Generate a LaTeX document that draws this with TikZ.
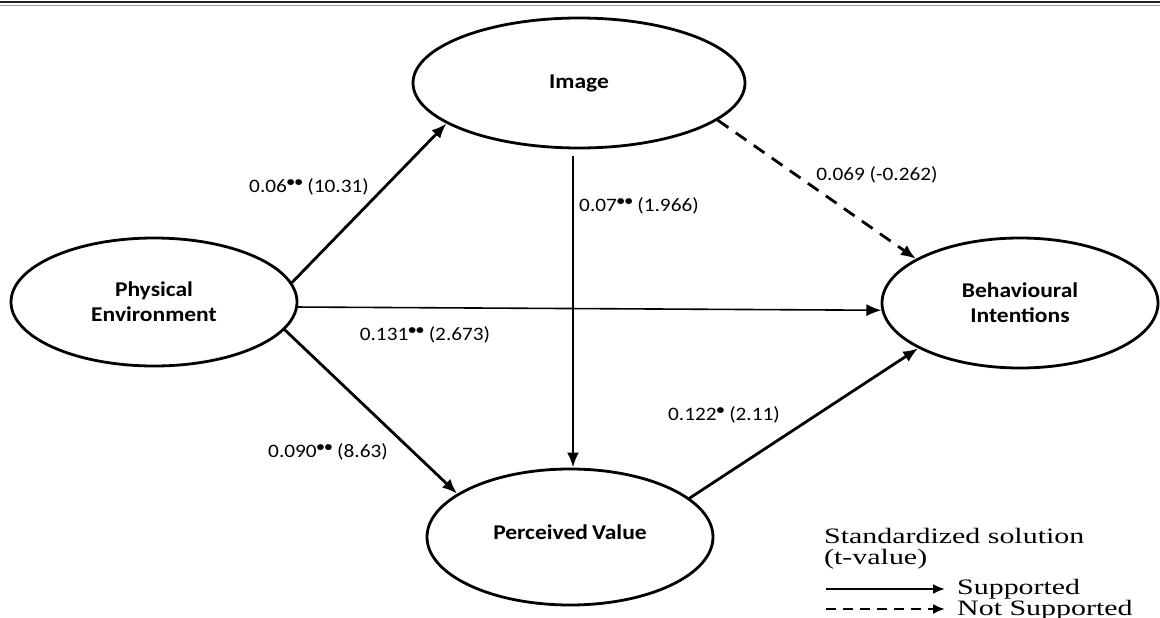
\documentclass[tikz,border=0pt]{standalone}
\usepackage{fontspec}
\usepackage{graphicx}
\setmainfont{Liberation Serif}
\newfontfamily\calfont{Carlito}
\usetikzlibrary{shapes.geometric,arrows.meta}
\newcommand{\wx}[2][1.12]{\scalebox{#1}[1]{#2}}
\newcommand{\st}[1]{\raisebox{0.3em}{\fontsize{14}{14}\selectfont\bfseries #1}}
\begin{document}
\begin{tikzpicture}[x=1pt,y=-1pt,
  latent/.style={ellipse, draw, line width=2.8pt, inner sep=0pt, align=center,
    font=\calfont\bfseries\fontsize{21}{25}\selectfont},
  pth/.style={line width=2.8pt, -{Latex[length=15pt,width=12pt]}},
  lbl/.style={font=\calfont\fontsize{19}{22}\selectfont, inner sep=0pt},
  leg/.style={font=\fontsize{22}{25}\selectfont, inner sep=0pt, anchor=base west}]
\useasboundingbox (0,0) rectangle (1160,618);
\draw[line width=2.4pt, black!85] (0,2) -- (1160,2);
\draw[line width=0.8pt, black!40] (0,5.5) -- (1160,5.5);

\node[latent, minimum width=332pt, minimum height=130pt] (IM) at (579,83) {\wx{Image}};
\node[latent, minimum width=286pt, minimum height=128pt] (PE) at (154,302) {\wx{Physical}\\\wx{Environment}};
\node[latent, minimum width=276pt, minimum height=130pt] (BI) at (1020,303) {\wx{Behavioural}\\\wx{Intentions}};
\node[latent, minimum width=286pt, minimum height=136pt] (PV) at (570,537) {\raisebox{9pt}{\wx{Perceived\kern-1pt\ Value}}};

\draw[pth] (PE.8) -- (IM.197.6);
\draw[pth, line width=1.6pt] (PE.-2) -- (BI.183.7);
\draw[pth] (PE.-12) -- (PV.159);
\draw[pth] ([xshift=-6pt,yshift=-7pt]IM.south) -- ([xshift=-6pt]IM.south |- PV.north);
\draw[pth, dash pattern=on 13pt off 9pt] (IM.-15) -- (BI.157.6);
\draw[pth] (PV.18) -- (BI.204.6);

\node[lbl] (l1) at (309,187) {\wx{0.06\st{••} (10.31)}};
\node[lbl] (l2) at (639,206) {\wx{0.07\st{••} (1.966)}};
\node[lbl] (l3) at (877,175) {\wx{0.069 (-0.262)}};
\node[lbl] (l4) at (425,335) {\wx{0.131\st{••} (2.673)}};
\node[lbl] (l5) at (328,452) {\wx{0.090\st{••} (8.63)}};
\node[lbl] (l6) at (724,415) {\wx{0.122\st{•} (2.11)}};

\node[leg] (lg1) at (824,543) {\wx[1.36]{Standardized solution}};
\node[leg] (lg2) at (824,564) {\wx[1.36]{(t-value)}};
\coordinate (s1) at (826,589);
\coordinate (s2) at (826,609);
\node[leg] (sup) at (957,594) {\wx[1.36]{Supported}};
\node[leg] (nsup) at (957,615) {\wx[1.36]{Not Supported}};
\draw[line width=2.2pt, -{Latex[length=12pt,width=10pt]}, shorten >=12pt] (s1) -- (s1 -| sup.west);
\draw[line width=2.2pt, dash pattern=on 10pt off 7pt, -{Latex[length=12pt,width=10pt]}, shorten >=12pt] (s2) -- (s2 -| nsup.west);
\end{tikzpicture}
\end{document}
